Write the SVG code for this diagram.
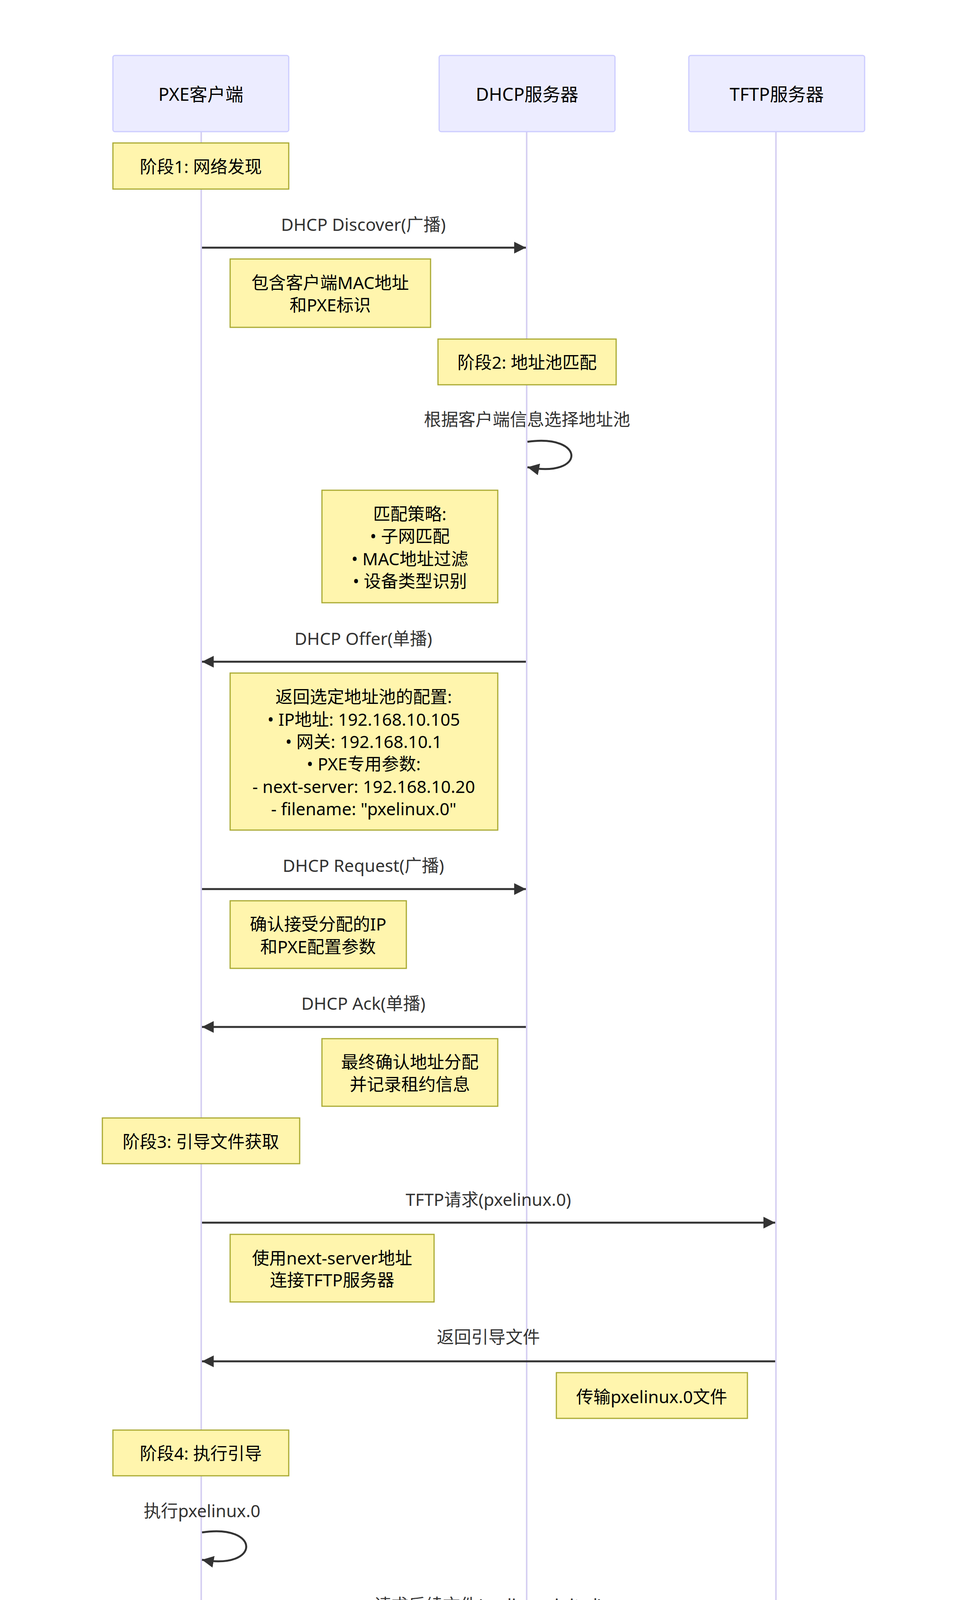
<svg xmlns="http://www.w3.org/2000/svg" width="2475" height="4743" viewBox="0 0 2475 4743">
<style>
text{font-family:"Noto Sans","Noto Sans CJK SC",sans-serif;text-anchor:middle;dominant-baseline:central}
.actor{fill:#ECECFF;stroke:#CCCCFF;stroke-width:3}
.at{font-size:46px;fill:#000}
.note{fill:#FFF5AD;stroke:#AAAA33;stroke-width:3}
.nt{font-size:44px;fill:#000}
.mt{font-size:44px;fill:#333}
.life{stroke:#D6D0F2;stroke-width:4}
.msg{stroke:#333;stroke-width:5;fill:none}
</style>
<defs>
<marker id="ah" viewBox="0 0 10 10" refX="10" refY="5" markerWidth="6" markerHeight="6" markerUnits="userSpaceOnUse" orient="auto"><path d="M0,0L10,5L0,10z" fill="#333" transform="scale(1)"/></marker>
<marker id="ah2" viewBox="0 0 10 10" refX="10" refY="5" markerWidth="30" markerHeight="30" markerUnits="userSpaceOnUse" orient="auto"><path d="M0,0L10,5L0,10z" fill="#333"/></marker>
</defs>
<g id="lifelines">
<line class="life" x1="515" y1="337" x2="515" y2="4402"/>
<line class="life" x1="1348" y1="337" x2="1348" y2="4402"/>
<line class="life" x1="1986" y1="337" x2="1986" y2="4402"/>
</g>
<g id="actor-pxe-top"><rect class="actor" x="289" y="142" width="450" height="195" rx="5"/><text class="at" x="514" y="240">PXE客户端</text></g>
<g id="actor-dhcp-top"><rect class="actor" x="1124" y="142" width="450" height="195" rx="5"/><text class="at" x="1349" y="240">DHCP服务器</text></g>
<g id="actor-tftp-top"><rect class="actor" x="1763" y="142" width="450" height="195" rx="5"/><text class="at" x="1988" y="240">TFTP服务器</text></g>
<g id="actor-pxe-bottom"><rect class="actor" x="289" y="4402" width="450" height="194" rx="5"/><text class="at" x="514" y="4501">PXE客户端</text></g>
<g id="actor-dhcp-bottom"><rect class="actor" x="1124" y="4402" width="450" height="194" rx="5"/><text class="at" x="1349" y="4501">DHCP服务器</text></g>
<g id="actor-tftp-bottom"><rect class="actor" x="1763" y="4402" width="450" height="194" rx="5"/><text class="at" x="1988" y="4501">TFTP服务器</text></g>
<g id="note1"><rect class="note" x="289" y="366" width="450" height="118"/><text class="nt" x="514" y="426">阶段1: 网络发现</text></g>
<g id="note2"><rect class="note" x="589" y="663" width="513" height="175"/><text class="nt" x="845" y="723">包含客户端MAC地址</text><text class="nt" x="845" y="780">和PXE标识</text></g>
<g id="note3"><rect class="note" x="1121" y="868" width="456" height="117"/><text class="nt" x="1349" y="927">阶段2: 地址池匹配</text></g>
<g id="note4"><rect class="note" x="824" y="1255" width="450" height="288"/><text class="nt" x="1049" y="1315">匹配策略:</text><text class="nt" x="1049" y="1372">• 子网匹配</text><text class="nt" x="1049" y="1430">• MAC地址过滤</text><text class="nt" x="1049" y="1487">• 设备类型识别</text></g>
<g id="note5"><rect class="note" x="589" y="1723" width="685" height="402"/><text class="nt" x="931" y="1783">返回选定地址池的配置:</text><text class="nt" x="931" y="1841">• IP地址: 192.168.10.105</text><text class="nt" x="931" y="1898">• 网关: 192.168.10.1</text><text class="nt" x="931" y="1955">• PXE专用参数:</text><text class="nt" x="931" y="2013">- next-server: 192.168.10.20</text><text class="nt" x="931" y="2070">- filename: "pxelinux.0"</text></g>
<g id="note6"><rect class="note" x="589" y="2306" width="451" height="173"/><text class="nt" x="814" y="2365">确认接受分配的IP</text><text class="nt" x="814" y="2423">和PXE配置参数</text></g>
<g id="note7"><rect class="note" x="824" y="2659" width="450" height="173"/><text class="nt" x="1049" y="2718">最终确认地址分配</text><text class="nt" x="1049" y="2775">并记录租约信息</text></g>
<g id="note8"><rect class="note" x="262" y="2862" width="505" height="117"/><text class="nt" x="514" y="2922">阶段3: 引导文件获取</text></g>
<g id="note9"><rect class="note" x="589" y="3160" width="522" height="173"/><text class="nt" x="850" y="3220">使用next-server地址</text><text class="nt" x="850" y="3276">连接TFTP服务器</text></g>
<g id="note10"><rect class="note" x="1424" y="3514" width="489" height="117"/><text class="nt" x="1668" y="3575">传输pxelinux.0文件</text></g>
<g id="note11"><rect class="note" x="289" y="3661" width="450" height="117"/><text class="nt" x="514" y="3720">阶段4: 执行引导</text></g>
<g id="connectors">
<line class="msg" x1="517" y1="634" x2="1346" y2="634" marker-end="url(#ah2)"/>
<text class="mt" x="930" y="574">DHCP Discover(广播)</text>
<path class="msg" d="M1350,1131 C1500,1110 1500,1225 1350,1196" marker-end="url(#ah2)"/>
<text class="mt" x="1349" y="1073">根据客户端信息选择地址池</text>
<line class="msg" x1="1346" y1="1694" x2="517" y2="1694" marker-end="url(#ah2)"/>
<text class="mt" x="930" y="1634">DHCP Offer(单播)</text>
<line class="msg" x1="517" y1="2276" x2="1346" y2="2276" marker-end="url(#ah2)"/>
<text class="mt" x="930" y="2215">DHCP Request(广播)</text>
<line class="msg" x1="1346" y1="2629" x2="517" y2="2629" marker-end="url(#ah2)"/>
<text class="mt" x="930" y="2568">DHCP Ack(单播)</text>
<line class="msg" x1="517" y1="3130" x2="1984" y2="3130" marker-end="url(#ah2)"/>
<text class="mt" x="1250" y="3070">TFTP请求(pxelinux.0)</text>
<line class="msg" x1="1984" y1="3485" x2="517" y2="3485" marker-end="url(#ah2)"/>
<text class="mt" x="1250" y="3422">返回引导文件</text>
<path class="msg" d="M517,3923 C668,3900 668,4020 517,3993" marker-end="url(#ah2)"/>
<text class="mt" x="517" y="3867">执行pxelinux.0</text>
<line class="msg" x1="517" y1="4193" x2="1984" y2="4193" marker-end="url(#ah2)"/>
<text class="mt" x="1250" y="4108">请求后续文件(vmlinuz, initrd)</text>
<line class="msg" x1="1984" y1="4342" x2="517" y2="4342" marker-end="url(#ah2)"/>
<text class="mt" x="1250" y="4281">返回内核和初始化镜像</text>
</g>
<text x="2318" y="4701" style="font-size:44px;fill:#C8C8C8;font-family:'Liberation Sans',sans-serif">CSDN @fiveym</text>
</svg>
